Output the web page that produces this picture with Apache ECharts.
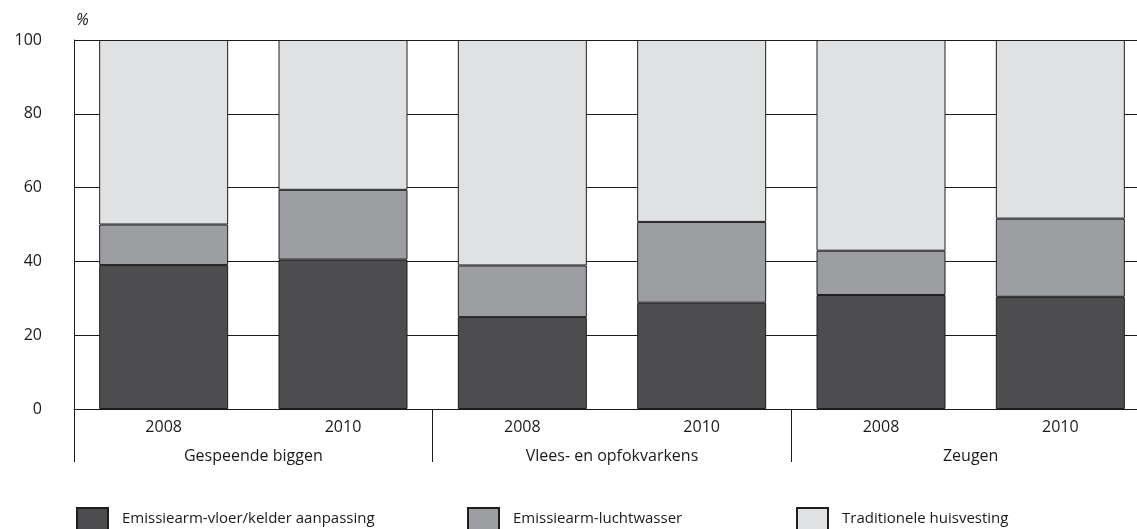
<!DOCTYPE html>
<html>
<head>
<meta charset="utf-8">
<script src="https://cdn.jsdelivr.net/npm/echarts@6/dist/echarts.min.js"></script>
<style>
html,body{margin:0;padding:0;background:#fff;overflow:hidden;width:1137px;height:529px;}
#chart{width:1160px;height:529px;}
</style>
</head>
<body>
<div id="chart"></div>
<script>
// Data
const years = ['2008', '2010', '2008', '2010', '2008', '2010'];
const groups = ['Gespeende biggen', 'Vlees- en opfokvarkens', 'Zeugen'];
const seriesNames = ['Emissiearm-vloer/kelder aanpassing', 'Emissiearm-luchtwasser', 'Traditionele huisvesting'];
const vloerKelder = [39.0, 40.5, 24.9, 28.8, 30.9, 30.4];
const luchtwasser = [11.0, 18.9, 14.0, 21.9, 12.0, 21.2];
const traditioneel = [50.0, 40.6, 61.1, 49.3, 57.1, 48.4];
const yTicks = [0, 20, 40, 60, 80, 100];

const colors = ['#4d4d4f', '#9d9ea2', '#e0e1e3'];
const font = '"Open Sans", "Noto Sans", sans-serif';

const chart = echarts.init(document.getElementById('chart'), null, {renderer: 'canvas'});

function bar(name, data, color) {
  return {
    name: name,
    type: 'bar',
    stack: 'total',
    data: data,
    barWidth: 129,
    xAxisIndex: 0,
    itemStyle: {color: color, borderColor: '#1e1e1e', borderWidth: 1},
    emphasis: {disabled: true}
  };
}

function legend(i, left) {
  return {
    left: left,
    top: 502,
    itemWidth: 31,
    itemHeight: 22,
    icon: 'rect',
    selectedMode: false,
    data: [seriesNames[i]],
    textStyle: {fontSize: 15, color: '#1a1a1a', fontFamily: font, padding: [13, 0, 0, 9]}
  };
}

chart.setOption({
  animation: false,
  textStyle: {fontFamily: font},
  grid: {left: 74, top: 40, width: 1076, height: 369, containLabel: false},
  legend: [legend(0, 71), legend(1, 462), legend(2, 791)],
  xAxis: [
    {
      type: 'category',
      data: years,
      position: 'bottom',
      axisLine: {show: true, lineStyle: {color: '#1a1a1a', width: 1}},
      axisTick: {show: false},
      axisLabel: {fontSize: 16, color: '#1a1a1a', margin: 10, interval: 0}
    },
    {
      type: 'category',
      data: groups,
      position: 'bottom',
      axisLine: {show: false},
      axisTick: {show: true, length: 53, lineStyle: {color: '#1a1a1a', width: 1}},
      axisLabel: {fontSize: 16, color: '#1a1a1a', margin: 39, interval: 0}
    }
  ],
  yAxis: {
    type: 'value',
    min: yTicks[0],
    max: yTicks[yTicks.length - 1],
    interval: 20,
    name: '%',
    nameLocation: 'end',
    nameGap: 12,
    nameTextStyle: {fontStyle: 'italic', fontSize: 16, color: '#1a1a1a', align: 'left', padding: [0, 0, 0, 2]},
    axisLine: {show: true, lineStyle: {color: '#1a1a1a', width: 1}},
    axisTick: {show: false},
    axisLabel: {fontSize: 16, color: '#1a1a1a', margin: 32},
    splitLine: {show: true, lineStyle: {color: '#1a1a1a', width: 1}}
  },
  series: [
    bar(seriesNames[0], vloerKelder, colors[0]),
    bar(seriesNames[1], luchtwasser, colors[1]),
    bar(seriesNames[2], traditioneel, colors[2])
  ]
});
</script>
</body>
</html>
